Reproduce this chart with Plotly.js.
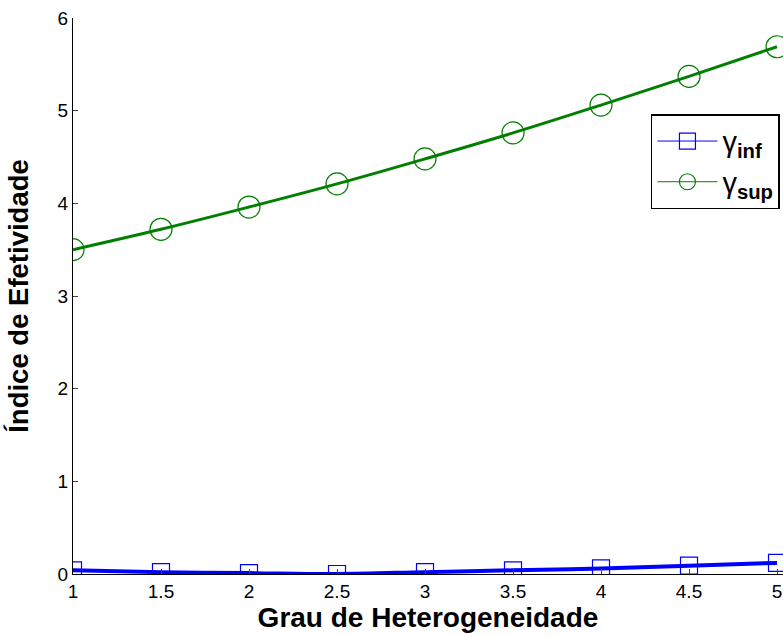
<!DOCTYPE html>
<html><head><meta charset="utf-8">
<script src="https://cdn.plot.ly/plotly-3.0.1.min.js"></script>
<style>body{margin:0;background:#fff}#chart{width:783px;height:637px}</style>
</head><body><div id="chart"></div>
<script>
const xVals = [1, 1.5, 2, 2.5, 3, 3.5, 4, 4.5, 5];
const gammaInf = [0.04, 0.02, 0.01, 0.00, 0.02, 0.04, 0.06, 0.09, 0.12];
const gammaSup = [3.50, 3.72, 3.96, 4.21, 4.48, 4.76, 5.06, 5.37, 5.69];
const xTicks = [1, 1.5, 2, 2.5, 3, 3.5, 4, 4.5, 5];
const yTicks = [0, 1, 2, 3, 4, 5, 6];
const seriesNames = ['γ<sub><b>inf</b></sub>', 'γ<sub><b>sup</b></sub>'];

const blue = '#0000FF', green = '#007F00';
const traces = [
  {x: xVals, y: gammaInf, mode: 'lines', line: {color: blue, width: 4, shape: 'spline'}, showlegend: false, hoverinfo: 'skip'},
  {x: xVals, y: gammaSup, mode: 'lines', line: {color: green, width: 3, shape: 'spline'}, showlegend: false, hoverinfo: 'skip'},
  {x: xVals, y: gammaInf, mode: 'markers', showlegend: false,
   marker: {symbol: 'square-open', size: 17, color: blue, line: {width: 1.2, color: blue}}},
  {x: xVals, y: gammaSup, mode: 'markers', showlegend: false,
   marker: {symbol: 'circle-open', size: 22, color: green, line: {width: 1.2, color: green}}},
  {x: [null], y: [null], mode: 'lines+markers', name: seriesNames[0], line: {color: blue, width: 1},
   marker: {symbol: 'square-open', size: 17, color: blue, line: {width: 1.2}}},
  {x: [null], y: [null], mode: 'lines+markers', name: seriesNames[1], line: {color: green, width: 1},
   marker: {symbol: 'circle-open', size: 22, color: green, line: {width: 1.2}}}
];

const layout = {
  width: 783, height: 637,
  margin: {l: 73, r: 0, t: 18, b: 63},
  paper_bgcolor: '#fff', plot_bgcolor: '#fff',
  font: {family: 'Liberation Sans, Arial, sans-serif', size: 19, color: '#000'},
  showlegend: true,
  legend: {x: 0.814, y: 0.827, xanchor: 'left', yanchor: 'top', bordercolor: '#000', borderwidth: 1.5,
    bgcolor: '#fff', font: {size: 29}, itemwidth: 60, tracegroupgap: 6},
  xaxis: {range: [1, 5.034], tickvals: xTicks, ticktext: xTicks.map(String), ticks: 'inside', ticklen: 5,
    showline: true, linecolor: '#000', linewidth: 1, showgrid: false, zeroline: false, mirror: false,
    tickfont: {size: 19}, title: {text: '<b>Grau de Heterogeneidade</b>', font: {size: 28}, standoff: 6}},
  yaxis: {range: [0, 6], tickvals: yTicks, ticks: 'inside', ticklen: 5,
    showline: true, linecolor: '#000', linewidth: 1, showgrid: false, zeroline: false,
    tickfont: {size: 19}, title: {text: '<b>Índice de Efetividade</b>', font: {size: 27.5}, standoff: 20}}
};
Plotly.newPlot('chart', traces, layout, {displayModeBar: false, staticPlot: true});
</script></body></html>
